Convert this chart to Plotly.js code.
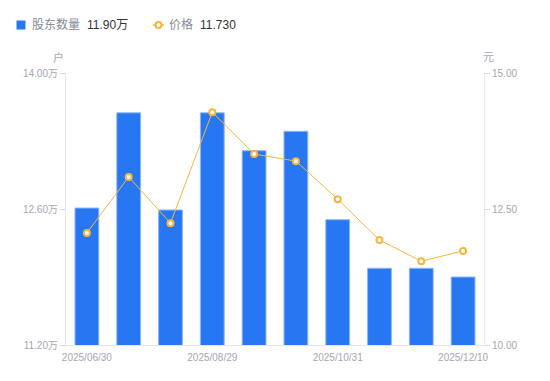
<!DOCTYPE html>
<html>
<head>
<meta charset="utf-8">
<script src="https://cdn.plot.ly/plotly-3.0.1.min.js"></script>
<style>html,body{margin:0;padding:0;background:#fff;}#chart{width:550px;height:381px;}</style>
</head>
<body>
<div id="chart"></div>
<script>
var dates = ['2025/06/30','2025/07/10','2025/07/31','2025/08/29','2025/09/10','2025/09/30','2025/10/31','2025/11/10','2025/11/20','2025/12/10'];
var holders = [12.61, 13.59, 12.59, 13.59, 13.20, 13.40, 12.49, 11.99, 11.99, 11.90];
var prices = [12.06, 13.09, 12.24, 14.28, 13.51, 13.38, 12.68, 11.93, 11.54, 11.73];
var xTickVals = ['2025/06/30','2025/08/29','2025/10/31','2025/12/10'];
var leftTicks = [11.2, 12.6, 14.0];
var leftTickText = ['11.20万','12.60万','14.00万'];
var rightTicks = [10, 12.5, 15];
var rightTickText = ['10.00','12.50','15.00'];
var seriesNames = ['股东数量', '价格'];

var FONT = 'Liberation Sans, Arial, Noto Sans CJK SC, sans-serif';
var GREY = '#a3a7b3';
var BLUE = '#2777f2';
var ORANGE = '#f6b53f';

// layout geometry (pixels)
var ML = 66, MR = 66, MT = 73, MB = 36, W = 550, H = 381;
var PW = W - ML - MR, PH = H - MT - MB;
function px(x) { return (x - ML) / PW; }
function py(y) { return (H - MB - y) / PH; }

var lastHolder = holders[holders.length - 1].toFixed(2) + '万';
var lastPrice = prices[prices.length - 1].toFixed(3);

var traces = [
  {
    type: 'bar', x: dates, y: holders, yaxis: 'y', name: seriesNames[0],
    marker: {color: BLUE, line: {color: '#8fb6f7', width: 1}},
    hoverinfo: 'skip', showlegend: false
  },
  {
    type: 'scatter', mode: 'lines+markers', x: dates, y: prices, yaxis: 'y2', name: seriesNames[1],
    line: {color: ORANGE, width: 1},
    marker: {symbol: 'circle', size: 6, color: '#ffffff', line: {color: ORANGE, width: 2}},
    hoverinfo: 'skip', showlegend: false
  }
];

var ly = 25;
var layout = {
  width: W, height: H,
  margin: {l: ML, r: MR, t: MT, b: MB, autoexpand: false},
  paper_bgcolor: '#ffffff', plot_bgcolor: '#ffffff',
  font: {family: FONT, size: 10, color: GREY},
  bargap: 0.43,
  showlegend: false,
  xaxis: {
    type: 'category', range: [-0.5, dates.length - 0.5], autorange: false,
    tickmode: 'array', tickvals: xTickVals, ticktext: xTickVals,
    showgrid: false, showline: true, linecolor: '#e3e5ea', linewidth: 1,
    ticks: '', ticklabelstandoff: 3, tickfont: {size: 10, color: GREY}, zeroline: false, fixedrange: true
  },
  yaxis: {
    range: [11.2, 14.0], tickmode: 'array', tickvals: leftTicks, ticktext: leftTickText,
    showgrid: false, showline: true, linecolor: '#e3e5ea', linewidth: 1,
    ticks: 'outside', ticklen: 5, tickcolor: '#d5d8de',
    tickfont: {size: 10, color: GREY}, zeroline: false, fixedrange: true
  },
  yaxis2: {
    overlaying: 'y', side: 'right', range: [10, 15],
    tickmode: 'array', tickvals: rightTicks, ticktext: rightTickText,
    showgrid: false, showline: true, linecolor: '#e3e5ea', linewidth: 1,
    ticks: 'outside', ticklen: 5, tickcolor: '#d5d8de',
    tickfont: {size: 10, color: GREY}, zeroline: false, fixedrange: true
  },
  shapes: [
    {type: 'rect', xref: 'paper', yref: 'paper', x0: px(16.5), x1: px(25.5), y0: py(29.5), y1: py(20.5),
     fillcolor: BLUE, line: {width: 0}},
    {type: 'line', xref: 'paper', yref: 'paper', x0: px(153), x1: px(164), y0: py(ly), y1: py(ly),
     line: {color: ORANGE, width: 1.5}},
    {type: 'circle', xref: 'paper', yref: 'paper', x0: px(155.5), x1: px(161.5), y0: py(ly + 3), y1: py(ly - 3),
     fillcolor: '#ffffff', line: {color: ORANGE, width: 2}}
  ],
  annotations: [
    {text: seriesNames[0], xref: 'paper', yref: 'paper', x: px(30), y: py(ly), xanchor: 'left', yanchor: 'middle', showarrow: false, font: {size: 12, color: '#868a95'}},
    {text: lastHolder, xref: 'paper', yref: 'paper', x: px(85), y: py(ly), xanchor: 'left', yanchor: 'middle', showarrow: false, font: {size: 12, color: '#333333'}},
    {text: seriesNames[1], xref: 'paper', yref: 'paper', x: px(167), y: py(ly), xanchor: 'left', yanchor: 'middle', showarrow: false, font: {size: 12, color: '#868a95'}},
    {text: lastPrice, xref: 'paper', yref: 'paper', x: px(198), y: py(ly), xanchor: 'left', yanchor: 'middle', showarrow: false, font: {size: 12, color: '#333333'}},
    {text: '户', xref: 'paper', yref: 'paper', x: px(58), y: py(57), xanchor: 'center', yanchor: 'middle', showarrow: false, font: {size: 11, color: GREY}},
    {text: '元', xref: 'paper', yref: 'paper', x: px(488), y: py(57), xanchor: 'center', yanchor: 'middle', showarrow: false, font: {size: 11, color: GREY}}
  ]
};

Plotly.newPlot('chart', traces, layout, {displayModeBar: false, staticPlot: true});
</script>
</body>
</html>
